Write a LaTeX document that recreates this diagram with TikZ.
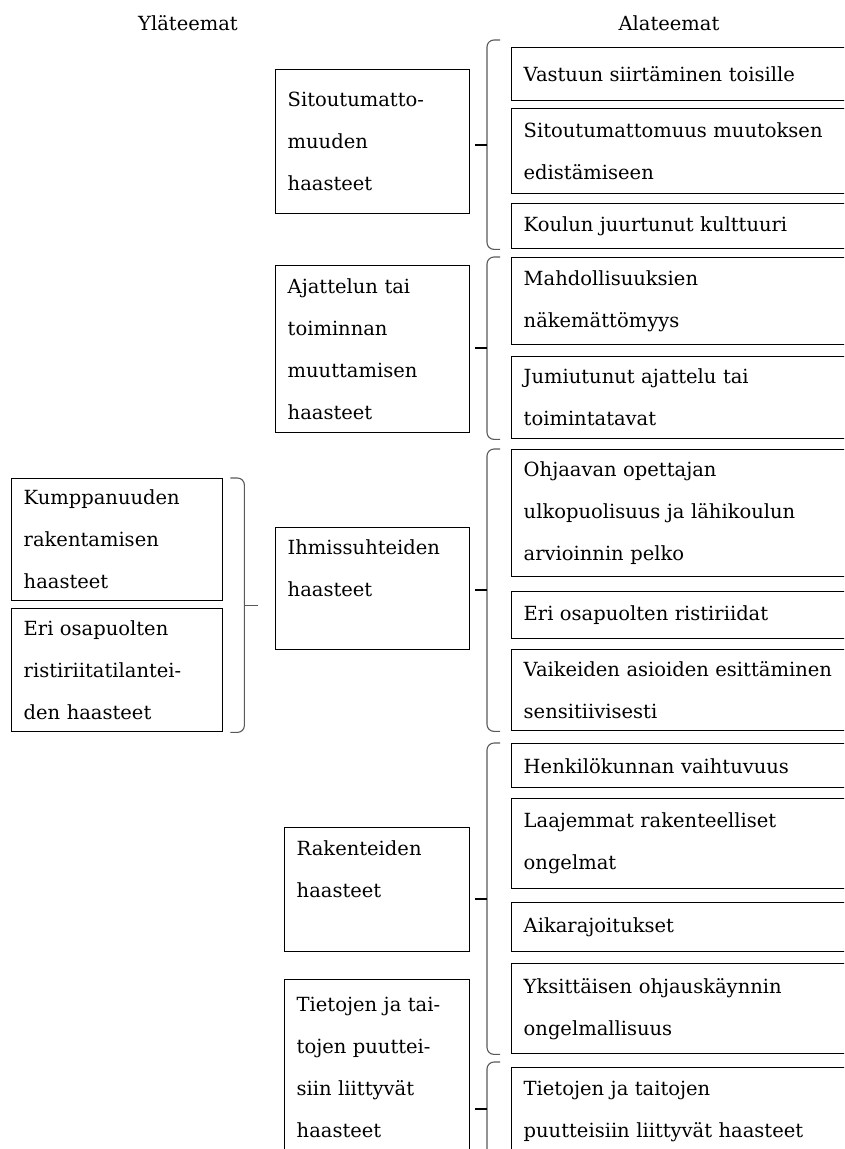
\documentclass[tikz,border=0pt]{standalone}
\usepackage{fontspec}
\setmainfont{DejaVu Serif}
\usetikzlibrary{calc}
\tikzset{
  teema/.style={draw, line width=1.4pt, anchor=north west, align=left, inner xsep=12pt, inner ysep=0pt, font=\fontsize{19.5}{42}\selectfont},
  laatikko/.style 2 args={teema, text width=#1pt, minimum height=#2pt},
  otsikko/.style={font=\fontsize{19.5}{24}\selectfont},
  sulku/.style={draw=black!65, line width=1.1pt, rounded corners=7pt},
  karki/.style={line width=2.2pt}
}
\newcommand{\groupbrace}[4][0]{%
  \draw[sulku] ($(#2.north west)+(-11,#1)$) -- ($(#2.north west)+(-24,#1)$) -- ($(#3.south west)+(-24,0)$) -- ($(#3.south west)+(-11,0)$);
  \path ($(#2.north west)+(-24,#1)$) coordinate (#2-yla) ($(#3.south west)+(-24,0)$) coordinate (#2-ala) ($(#2-yla)!.5!(#2-ala)$) coordinate (#2-m);
  \draw[karki] (#2-m) -- ($(#2-m -| #4.east)+(5,0)$);
}
\begin{document}
\begin{tikzpicture}[x=1pt, y=1pt]
    \path[use as bounding box] (0,0) rectangle (844,-1149);
    \clip (0,0) rectangle (844,-1149);
    \node[otsikko] (ylat) at (188,-23) {Yläteemat};
    \node[otsikko] (alat) at (669,-23) {Alateemat};

    \node[laatikko={187}{122}] (kump) at (11,-478) {Kumppanuuden\\rakentamisen\\haasteet};
    \node[laatikko={187}{123}] (eri) at (11,-608) {Eri osapuolten\\ristiriitatilantei-\\den haasteet};

    \node[laatikko={170}{144}] (sit) at (275,-69) {Sitoutumatto-\\muuden\\haasteet};
    \node[laatikko={170}{167}] (ajat) at (275,-265) {Ajattelun tai\\toiminnan\\muuttamisen\\haasteet};
    \node[laatikko={170}{122}] (ihm) at (275,-527) {Ihmissuhteiden\\haasteet\\\phantom{h}};
    \node[laatikko={161}{124}] (rak) at (284,-827) {Rakenteiden\\haasteet\\\phantom{h}};
    \node[laatikko={161}{176}] (tiet) at (284,-979) {Tietojen ja tai-\\tojen puuttei-\\siin liittyvät\\haasteet};

    \node[laatikko={356}{53}] (v1) at (511,-47) {Vastuun siirtäminen toisille};
    \node[laatikko={356}{85}] (v2) at (511,-108) {Sitoutumattomuus muutoksen\\edistämiseen};
    \node[laatikko={356}{45}] (v3) at (511,-203) {Koulun juurtunut kulttuuri};
    \node[laatikko={356}{87}] (a1) at (511,-257) {Mahdollisuuksien\\näkemättömyys};
    \node[laatikko={356}{82}] (a2) at (511,-356) {Jumiutunut ajattelu tai\\toimintatavat};
    \node[laatikko={356}{127}] (i1) at (511,-449) {Ohjaavan opettajan\\ulkopuolisuus ja lähikoulun\\arvioinnin pelko};
    \node[laatikko={356}{47}] (i2) at (511,-591) {Eri osapuolten ristiriidat};
    \node[laatikko={356}{81}] (i3) at (511,-649) {Vaikeiden asioiden esittäminen\\sensitiivisesti};
    \node[laatikko={356}{44}] (r1) at (511,-743) {Henkilökunnan vaihtuvuus};
    \node[laatikko={356}{90}] (r2) at (511,-798) {Laajemmat rakenteelliset\\ongelmat};
    \node[laatikko={356}{49}] (r3) at (511,-902) {Aikarajoitukset};
    \node[laatikko={356}{90}] (r4) at (511,-963) {Yksittäisen ohjauskäynnin\\ongelmallisuus};
    \node[laatikko={356}{88}] (t1) at (511,-1067) {Tietojen ja taitojen\\puutteisiin liittyvät haasteet};

    \groupbrace[7]{v1}{v3}{sit}
    \groupbrace{a1}{a2}{ajat}
    \groupbrace{i1}{i3}{ihm}
    \groupbrace{r1}{r4}{rak}
    \groupbrace[5]{t1}{t1}{tiet}

    \draw[sulku] ($(kump.north east)+(7,0)$) -- ($(kump.north east)+(21,0)$) -- ($(eri.south east)+(21,0)$) -- ($(eri.south east)+(7,0)$);
    \path ($(kump.north east)!.5!(eri.south east)+(21,0)$) coordinate (kump-m);
    \draw[sulku] (kump-m) -- ($(kump-m -| ihm.west)+(-17,0)$);
\end{tikzpicture}
\end{document}
